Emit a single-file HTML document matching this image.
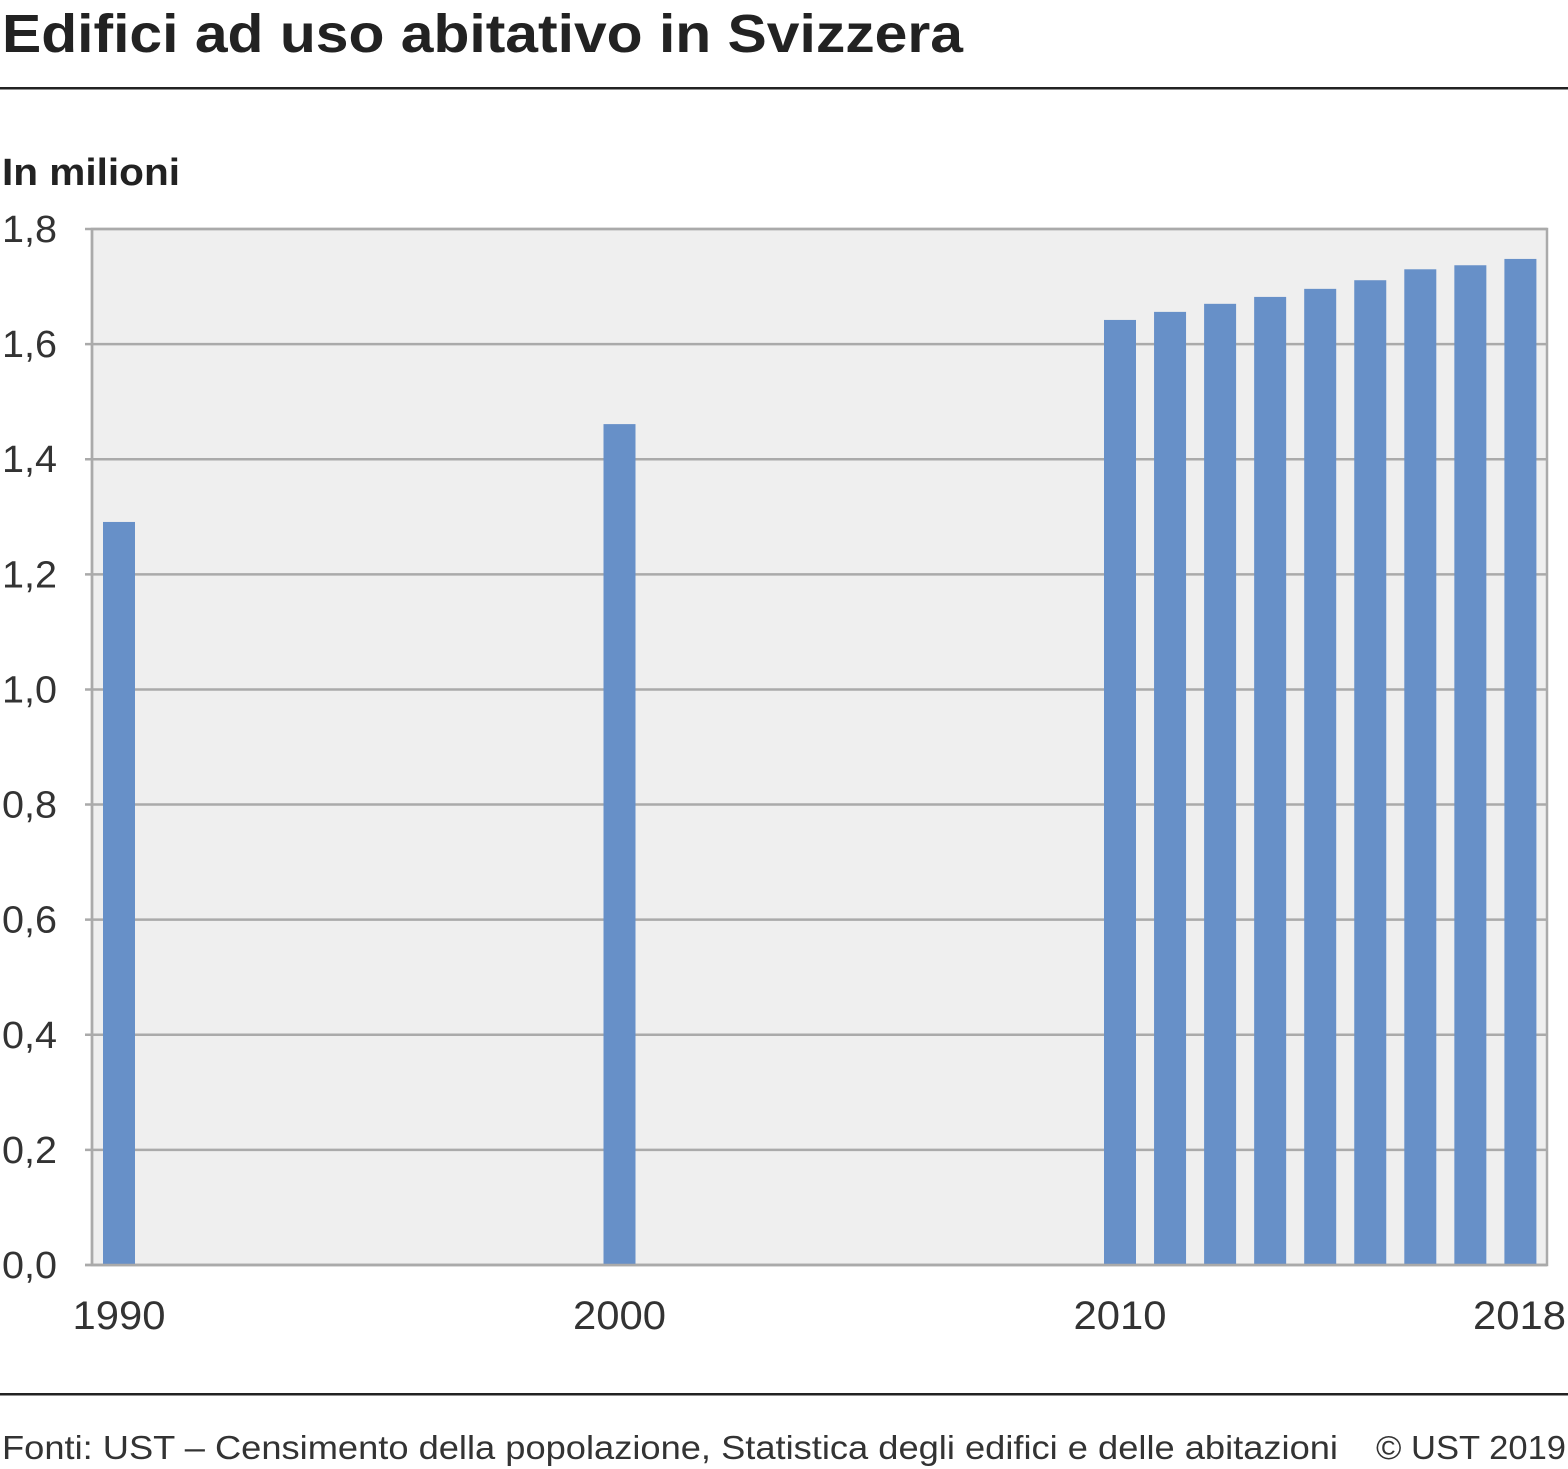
<!DOCTYPE html>
<html><head><meta charset="utf-8">
<style>
body{margin:0;background:#fff;width:1568px;height:1469px;overflow:hidden;font-family:"Liberation Sans",sans-serif;}
svg{display:block}
</style></head>
<body>
<svg id="chart" width="1568" height="1469">
<text x="2" y="52" font-size="54" font-weight="bold" fill="#222" textLength="961" lengthAdjust="spacingAndGlyphs">Edifici ad uso abitativo in Svizzera</text>
<rect x="0" y="87" width="1568" height="2.5" fill="#222"/>
<text x="2" y="185" font-size="38" font-weight="bold" fill="#222" textLength="178" lengthAdjust="spacingAndGlyphs">In milioni</text>
<rect x="92" y="229" width="1455" height="1036" fill="#efefef" stroke="#aaa" stroke-width="2.5"/>
<g id="grid"></g>
<g id="bars"></g>
<g id="xlabels"></g>
<rect x="0" y="1393" width="1568" height="2.5" fill="#222"/>
<text x="2" y="1459" font-size="33" fill="#333" textLength="1336" lengthAdjust="spacingAndGlyphs">Fonti: UST – Censimento della popolazione, Statistica degli edifici e delle abitazioni</text>
<text x="1566" y="1459" font-size="33" fill="#333" text-anchor="end" textLength="190" lengthAdjust="spacingAndGlyphs">© UST 2019</text>
</svg>
<script>
const years = [1990, 2000, 2010, 2011, 2012, 2013, 2014, 2015, 2016, 2017, 2018];
const values = [1.291, 1.461, 1.642, 1.656, 1.670, 1.682, 1.696, 1.711, 1.730, 1.737, 1.748];
const yTicks = [0, 0.2, 0.4, 0.6, 0.8, 1.0, 1.2, 1.4, 1.6, 1.8];
const xTickYears = [1990, 2000, 2010, 2018];

const NS = "http://www.w3.org/2000/svg";
const y = v => 1265 - v / 1.8 * 1036;
const x = yr => 119 + (yr - 1990) * 50.05;
function mk(tag, attrs, parent){const e=document.createElementNS(NS,tag);for(const k in attrs)e.setAttribute(k,attrs[k]);parent.appendChild(e);return e;}
const grid=document.getElementById('grid'), bars=document.getElementById('bars'), xl=document.getElementById('xlabels');
yTicks.forEach(t=>{
  const l=mk('line',{x1:85,x2:1547,y1:y(t),y2:y(t),stroke:'#aaa','stroke-width':2.5},grid);
  
  
  const tx=mk('text',{x:57,y:y(t)+13,'font-size':38,fill:'#333','text-anchor':'end',textLength:55,lengthAdjust:'spacingAndGlyphs'},grid);
  tx.textContent=t.toFixed(1).replace('.',',');
  
  
});
mk('line',{x1:92,x2:92,y1:229,y2:1266,stroke:'#aaa','stroke-width':2.5},grid);
years.forEach((yr,i)=>{
  const b=mk('rect',{x:x(yr)-16,y:y(values[i]),width:32,height:1265-y(values[i]),fill:'#6790c8'},bars);
  
  
});
mk('line',{x1:85,x2:1547,y1:1265,y2:1265,stroke:'#aaa','stroke-width':2.5},bars);
xTickYears.forEach(yr=>{
  const t=mk('text',{x:yr===2018?1566:x(yr),y:1329,'font-size':40,fill:'#333','text-anchor':yr===2018?'end':'middle',textLength:93,lengthAdjust:'spacingAndGlyphs'},xl);
  t.textContent=yr;
  
  
});
</script>
</body></html>
